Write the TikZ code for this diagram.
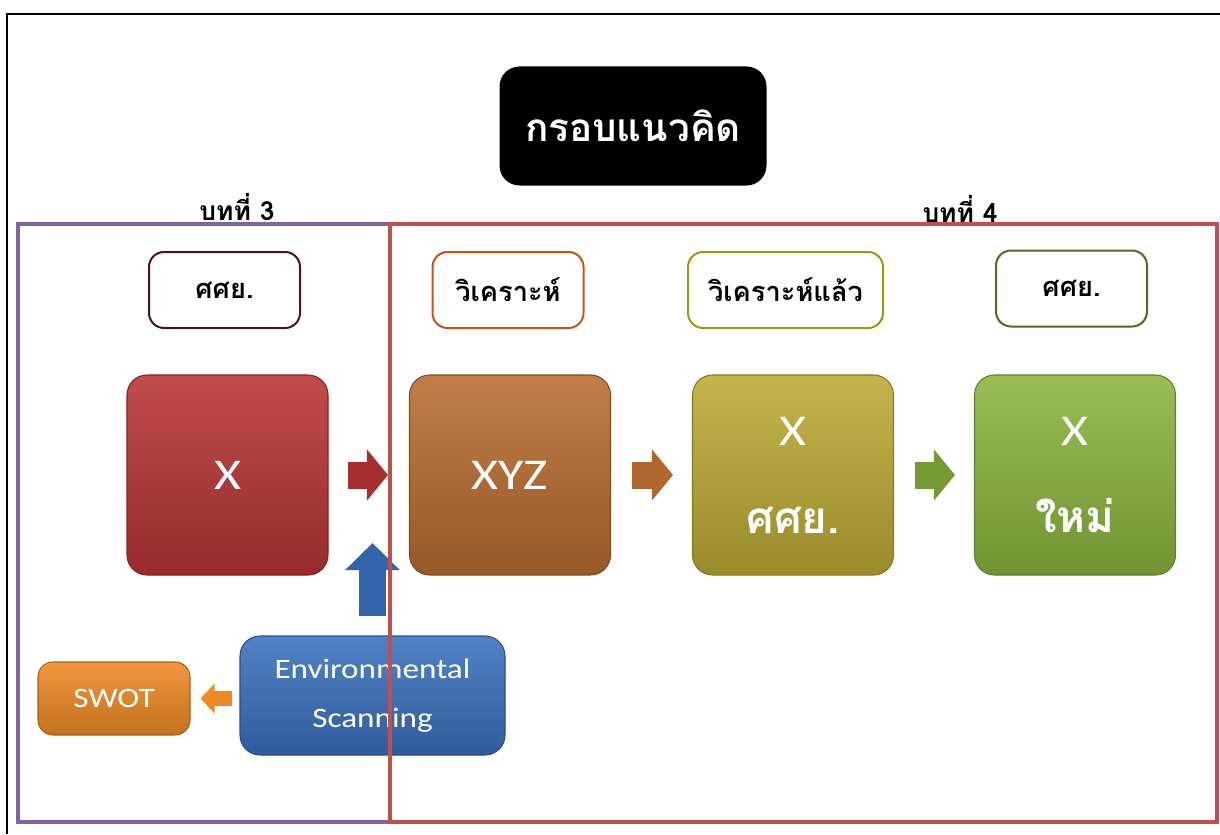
\documentclass[tikz,border=0pt]{standalone}
\usepackage{fontspec}
\usepackage{tikz}
\usetikzlibrary{arrows.meta}
\setmainfont[FakeStretch=1.18]{Carlito}
\newfontfamily\thaifont[Script=Thai]{Loma}

\definecolor{frameviolet}{HTML}{8064A2}
\definecolor{framered}{HTML}{C0504D}
\definecolor{boxred}{HTML}{B83434}
\definecolor{boxbrown}{HTML}{B86C30}
\definecolor{boxolive}{HTML}{BBAA34}
\definecolor{boxgreen}{HTML}{8AB43E}
\definecolor{boxblue}{HTML}{3A70BE}
\definecolor{boxorange}{HTML}{EE8A24}
\definecolor{tagdark}{HTML}{4A1515}
\definecolor{tagbrown}{HTML}{C0561E}
\definecolor{tagolive}{HTML}{9A9A12}
\definecolor{taggreen}{HTML}{4F6B1E}

\begin{document}
\begin{tikzpicture}[x=0.2mm,y=-0.2mm,
  bigbox/.style={rounded corners=4mm,minimum width=40.2mm,minimum height=40mm,
    draw=#1!70!black,line width=0.6pt,top color=#1!88!white,bottom color=#1!82!black,
    text=white,align=center,font=\fontsize{25}{50}\selectfont},
  tagbox/.style={draw=#1,line width=0.4mm,fill=white,rounded corners=3mm,
    minimum width=30.2mm,minimum height=15.2mm,
    font=\thaifont\bfseries\fontsize{15.5}{20}\selectfont},
  bararrow/.style={#1,line width=5.4mm,-{Triangle[length=4.2mm,width=10mm]}}]

  \useasboundingbox (0,0) rectangle (1220,834);
  \draw[line width=0.35mm] (1220,14) -- (7,14) -- (7,834);

  % title
  \node[fill=black,rounded corners=4mm,minimum width=53.4mm,minimum height=23.8mm,
    text=white,font=\thaifont\bfseries\fontsize{22}{26}\selectfont] (title) at (633,126) {กรอบแนวคิด};
  \node[font=\thaifont\bfseries\fontsize{15}{18}\selectfont] (ch3) at (237,207) {บทที่ 3};
  \node[font=\thaifont\bfseries\fontsize{15}{18}\selectfont] (ch4) at (960,209) {บทที่ 4};

  % tags
  \node[tagbox=tagdark] (tagA) at (224.5,290) {ศศย.};
  \node[tagbox=tagbrown] (tagB) at (508,290) {วิเคราะห์};
  \node[tagbox=tagolive,minimum width=39mm] (tagC) at (785.5,290) {วิเคราะห์แล้ว};
  \node[tagbox=taggreen] (tagD) at (1071.5,288.5) {ศศย.};

  % main steps
  \node[bigbox=boxred] (stepA) at (227.5,475) {X};
  \node[bigbox=boxbrown] (stepB) at (510,475) {XYZ};
  \node[bigbox=boxolive] (stepC) at (793,475) {X\\{\thaifont\bfseries ศศย.}};
  \node[bigbox=boxgreen] (stepD) at (1075,475) {X\\{\thaifont\bfseries ใหม่}};

  % scanning
  \node[bigbox=boxblue,minimum width=53mm,minimum height=23.8mm,
    font=\fontsize{16}{28}\selectfont] (env) at (372.5,695.5) {Environmental\\Scanning};
  \node[bigbox=boxorange,minimum width=30.4mm,minimum height=14.6mm,rounded corners=3mm,
    font=\fontsize{16}{20}\selectfont] (swot) at (114,698.5) {SWOT};
  \coordinate (envtip) at (372.5,543);

  % arrows
  \draw[bararrow={boxred!90!black},shorten <=3.8mm,shorten >=4.2mm] (stepA) -- (stepB);
  \draw[bararrow={boxbrown!95!black},shorten <=4.2mm,shorten >=3.8mm] (stepB) -- (stepC);
  \draw[bararrow={boxgreen!85!black},shorten <=4.2mm,shorten >=3.8mm] (stepC) -- (stepD);
  \draw[bararrow={boxblue!90!black},-{Triangle[length=5.4mm,width=10.6mm]},shorten <=3.8mm]
    (env.north) -- (envtip);
  \draw[boxorange,line width=3mm,-{Triangle[length=2.8mm,width=5.8mm]},
    shorten <=1.4mm,shorten >=2mm] (env.west |- swot.east) -- (swot.east);

  % chapters
  \draw[frameviolet,line width=0.8mm] (18,224) rectangle (390,822);
  \draw[framered,line width=0.8mm] (390,224) rectangle (1217,822);

\end{tikzpicture}
\end{document}
